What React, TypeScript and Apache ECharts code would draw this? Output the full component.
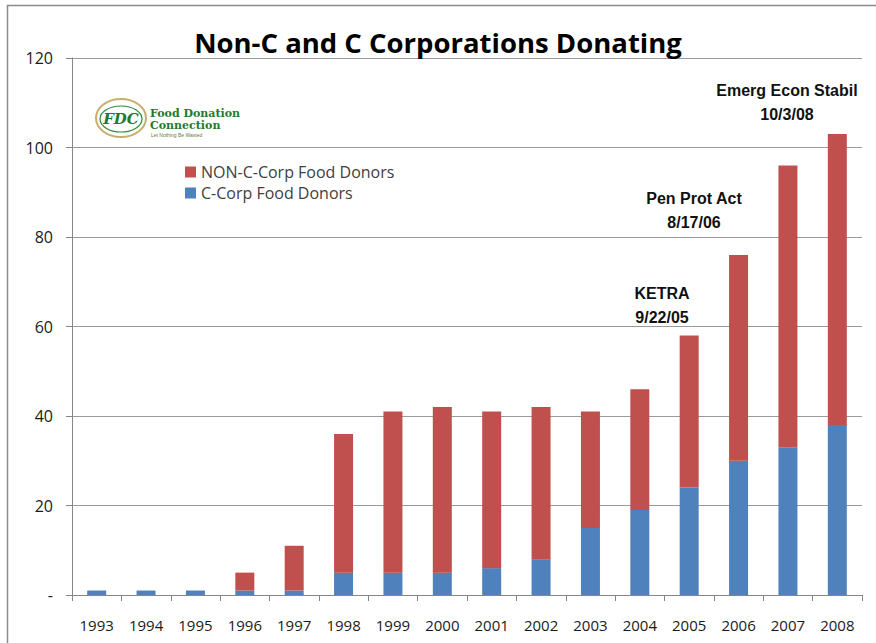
import React, { useEffect, useRef } from "react";
import * as echarts from "echarts";

const years = ["1993","1994","1995","1996","1997","1998","1999","2000","2001","2002","2003","2004","2005","2006","2007","2008"];
const cCorp = [1, 1, 1, 1, 1, 5, 5, 5, 6, 8, 15, 19, 24, 30, 33, 38];
const nonCCorp = [0, 0, 0, 4, 10, 31, 36, 37, 35, 34, 26, 27, 34, 46, 63, 65];
const annotations = [
  { line1: "KETRA", line2: "9/22/05", x: 662, y: 293 },
  { line1: "Pen Prot Act", line2: "8/17/06", x: 694, y: 198 },
  { line1: "Emerg Econ Stabil", line2: "10/3/08", x: 787, y: 90 },
];

export default function App() {
  const ref = useRef<HTMLDivElement>(null);
  useEffect(() => {
    document.body.style.margin = "0";
    const chart = echarts.init(ref.current!, undefined, { renderer: "svg" });
    const annGraphics: any[] = [];
    annotations.forEach((a) => {
      annGraphics.push({
        type: "text", x: a.x, y: a.y,
        style: { text: a.line1, font: "bold 16px 'Liberation Sans', Arial, sans-serif", fill: "#111", textAlign: "center", textVerticalAlign: "middle" },
      });
      annGraphics.push({
        type: "text", x: a.x, y: a.y + 24,
        style: { text: a.line2, font: "bold 16px 'Liberation Sans', Arial, sans-serif", fill: "#111", textAlign: "center", textVerticalAlign: "middle" },
      });
    });
    chart.setOption({
      animation: false,
      backgroundColor: "#ffffff",
      title: {
        text: "Non-C and C Corporations Donating",
        left: "center",
        top: 23,
        textStyle: { fontFamily: "'Open Sans', sans-serif", fontWeight: "bold", fontSize: 27.5, color: "#000" },
      },
      legend: {
        orient: "vertical",
        left: 180,
        top: 159,
        itemWidth: 11,
        itemHeight: 11,
        itemGap: 5,
        icon: "rect",
        data: ["NON-C-Corp Food Donors", "C-Corp Food Donors"],
        textStyle: { fontFamily: "'Open Sans', sans-serif", fontSize: 16, color: "#404040" },
      },
      grid: { left: 72, right: 14, top: 58, bottom: 48, containLabel: false },
      xAxis: {
        type: "category",
        data: years,
        axisLine: { show: true, lineStyle: { color: "#868686", width: 1 } },
        axisTick: { show: true, alignWithLabel: false, length: 6, lineStyle: { color: "#868686" } },
        axisLabel: { fontFamily: "'Open Sans', sans-serif", fontSize: 15, color: "#1a1a1a", margin: 22 },
      },
      yAxis: {
        type: "value",
        min: 0,
        max: 120,
        interval: 20,
        axisLine: { show: true, lineStyle: { color: "#868686", width: 1 } },
        axisTick: { show: true, length: 6, lineStyle: { color: "#868686" } },
        splitLine: { show: true, lineStyle: { color: "#9a9a9a", width: 1 } },
        axisLabel: {
          fontFamily: "'Open Sans', sans-serif",
          fontSize: 16,
          color: "#1a1a1a",
          margin: 19,
          formatter: (v: number) => (v === 0 ? "-" : String(v)),
        },
      },
      series: [
        {
          name: "C-Corp Food Donors",
          type: "bar",
          stack: "total",
          data: cCorp,
          barWidth: 19,
          itemStyle: { color: "#4F81BD" },
        },
        {
          name: "NON-C-Corp Food Donors",
          type: "bar",
          stack: "total",
          data: nonCCorp,
          barWidth: 19,
          itemStyle: { color: "#C0504D" },
        },
      ],
      graphic: [
        {
          type: "rect", shape: { x: 7.5, y: 5.5, width: 900, height: 700 },
          style: { fill: "none", stroke: "#8a8a8a", lineWidth: 1.5 }, silent: true, z: -1,
        },
        {
          type: "ellipse", shape: { cx: 121, cy: 118, rx: 25, ry: 19 },
          style: { fill: "none", stroke: "#c9ad6a", lineWidth: 2 },
        },
        {
          type: "ellipse", shape: { cx: 121, cy: 119, rx: 21, ry: 13 },
          style: { fill: "none", stroke: "#2f8a3a", lineWidth: 1.2 },
        },
        {
          type: "text", x: 121, y: 119,
          style: { text: "FDC", font: "italic bold 15px 'DejaVu Serif', serif", fill: "#1f7a2e", textAlign: "center", textVerticalAlign: "middle" },
        },
        {
          type: "text", x: 150, y: 113,
          style: { text: "Food Donation", font: "bold 11px 'DejaVu Serif', serif", fill: "#1f7a2e", textVerticalAlign: "middle" },
        },
        {
          type: "text", x: 150, y: 125,
          style: { text: "Connection", font: "bold 11px 'DejaVu Serif', serif", fill: "#1f7a2e", textVerticalAlign: "middle" },
        },
        {
          type: "text", x: 151, y: 135,
          style: { text: "Let Nothing Be Wasted", font: "5px 'Liberation Sans', sans-serif", fill: "#6a7a3a", textVerticalAlign: "middle" },
        },
        ...annGraphics,
      ],
    });
    return () => chart.dispose();
  }, []);
  return <div ref={ref} style={{ width: 876, height: 643 }} />;
}
